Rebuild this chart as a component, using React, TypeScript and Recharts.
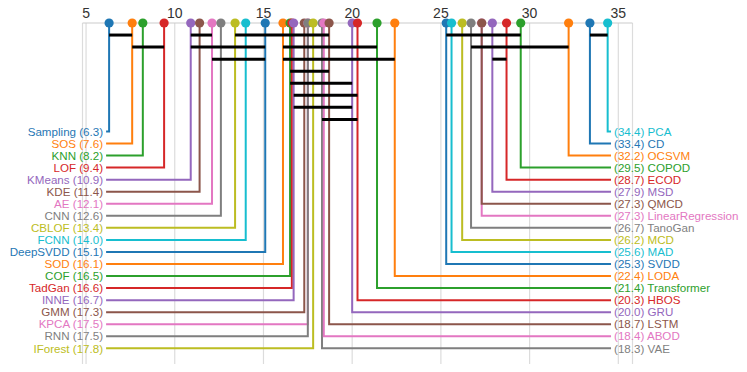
import React from 'react';
import { ComposedChart, XAxis, YAxis, CartesianGrid, Line, Scatter } from 'recharts';

// Methods sorted by ascending average rank
const METHODS = [
  'Sampling', 'SOS', 'KNN', 'LOF', 'KMeans', 'KDE', 'AE', 'CNN', 'CBLOF', 'FCNN',
  'DeepSVDD', 'SOD', 'COF', 'TadGan', 'INNE', 'GMM', 'KPCA', 'RNN', 'IForest',
  'VAE', 'ABOD', 'LSTM', 'GRU', 'HBOS', 'Transformer', 'LODA', 'SVDD', 'MAD', 'MCD',
  'TanoGan', 'LinearRegression', 'QMCD', 'MSD', 'ECOD', 'COPOD', 'OCSVM', 'CD', 'PCA',
];
const RANKS = [
  6.3, 7.6, 8.2, 9.4, 10.9, 11.4, 12.1, 12.6, 13.4, 14.0,
  15.1, 16.1, 16.5, 16.6, 16.7, 17.3, 17.5, 17.5, 17.8,
  18.3, 18.4, 18.7, 20.0, 20.3, 21.4, 22.4, 25.3, 25.6, 26.2,
  26.7, 27.3, 27.3, 27.9, 28.7, 29.5, 32.2, 33.4, 34.4,
];

// Cliques (groups not significantly different): from-method, to-method, bar level
const CLIQUE_FROM = ['Sampling', 'KMeans', 'CBLOF', 'SVDD', 'CD', 'SOS', 'KMeans', 'SOD', 'TanoGan', 'AE', 'SOD', 'MSD', 'COF', 'COF', 'INNE', 'INNE', 'VAE'];
const CLIQUE_TO = ['SOS', 'AE', 'LSTM', 'COPOD', 'PCA', 'LOF', 'DeepSVDD', 'Transformer', 'OCSVM', 'DeepSVDD', 'LODA', 'ECOD', 'LSTM', 'GRU', 'HBOS', 'GRU', 'HBOS'];
const CLIQUE_LEVEL = [1, 1, 1, 1, 1, 2, 2, 2, 2, 3, 3, 3, 4, 5, 6, 7, 8];

const AXIS_TICKS = [5, 10, 15, 20, 25, 30, 35];

// ---- layout / style ----
const PALETTE = ['#1f77b4', '#ff7f0e', '#2ca02c', '#d62728', '#9467bd', '#8c564b', '#e377c2', '#7f7f7f', '#bcbd22', '#17becf'];
const FONT = '"Liberation Sans", Arial, Helvetica, sans-serif';
const X_DOMAIN: [number, number] = [4.8, 35.8];
const Y_DOMAIN: [number, number] = [0, 28.3];
const LEFT_HOOK = 6.13;
const RIGHT_HOOK = 34.59;
const FIRST_LABEL_ROW = 9;

const N = METHODS.length;
const HALF = Math.ceil(N / 2);

const items = METHODS.map((name, i) => {
  const left = i < HALF;
  const k = left ? i : N - 1 - i;
  const color = left ? PALETTE[i % 10] : PALETTE[(k + 9) % 10];
  const row = FIRST_LABEL_ROW + k;
  const hook = left ? LEFT_HOOK : RIGHT_HOOK;
  const r = RANKS[i];
  return {
    name, rank: r, left, color, row, hook,
    text: left ? `${name} (${r.toFixed(1)})` : `(${r.toFixed(1)}) ${name}`,
  };
});

const rankOf = (name: string) => RANKS[METHODS.indexOf(name)];

const cliques = CLIQUE_FROM.map((f, j) => ({
  data: [
    { x: rankOf(f), y: CLIQUE_LEVEL[j] },
    { x: rankOf(CLIQUE_TO[j]), y: CLIQUE_LEVEL[j] },
  ],
}));

const dotData = items.map((it) => ({ x: it.rank, y: 0, color: it.color }));
const labelData = items.map((it) => ({ x: it.hook, y: it.row, color: it.color, text: it.text, left: it.left }));

const DotShape = (p: any) => <circle cx={p.cx} cy={p.cy} r={4.6} fill={p.payload.color} />;
const LabelShape = (p: any) => (
  <text
    x={p.payload.left ? p.cx - 3 : p.cx + 3}
    y={p.cy}
    dy="0.36em"
    textAnchor={p.payload.left ? 'end' : 'start'}
    fill={p.payload.color}
    fontSize={11.6}
    fontFamily={FONT}
  >
    {p.payload.text}
  </text>
);

export default function App() {
  return (
    <div style={{ marginTop: -8 }}>
      <ComposedChart
        width={739}
        height={364}
        margin={{ top: 8, right: 114.5, bottom: 0, left: 74.5 }}
        style={{ fontFamily: FONT, overflow: 'visible' }}
      >
        <CartesianGrid horizontal={false} stroke="#dcdcdc" strokeWidth={1.2} />
        <XAxis
          type="number"
          dataKey="x"
          orientation="top"
          domain={X_DOMAIN}
          ticks={AXIS_TICKS}
          tickLine={false}
          tickSize={3}
          height={15}
          axisLine={{ stroke: '#cccccc', strokeWidth: 1.2 }}
          tick={{ fontSize: 14, fill: '#333333', fontFamily: FONT }}
        />
        <YAxis type="number" dataKey="y" domain={Y_DOMAIN} reversed hide />
        {items.map((it) => (
          <Line
            key={'e' + it.name}
            data={[
              { x: it.rank, y: 0 },
              { x: it.rank, y: it.row },
              { x: it.hook, y: it.row },
            ]}
            dataKey="y"
            type="linear"
            stroke={it.color}
            strokeWidth={2}
            dot={false}
            activeDot={false}
            isAnimationActive={false}
          />
        ))}
        {cliques.map((c, j) => (
          <Line
            key={'c' + j}
            data={c.data}
            dataKey="y"
            type="linear"
            stroke="#000000"
            strokeWidth={3}
            dot={false}
            activeDot={false}
            isAnimationActive={false}
          />
        ))}
        <Scatter data={dotData} dataKey="y" shape={DotShape} isAnimationActive={false} />
        <Scatter data={labelData} dataKey="y" shape={LabelShape} isAnimationActive={false} />
      </ComposedChart>
    </div>
  );
}
